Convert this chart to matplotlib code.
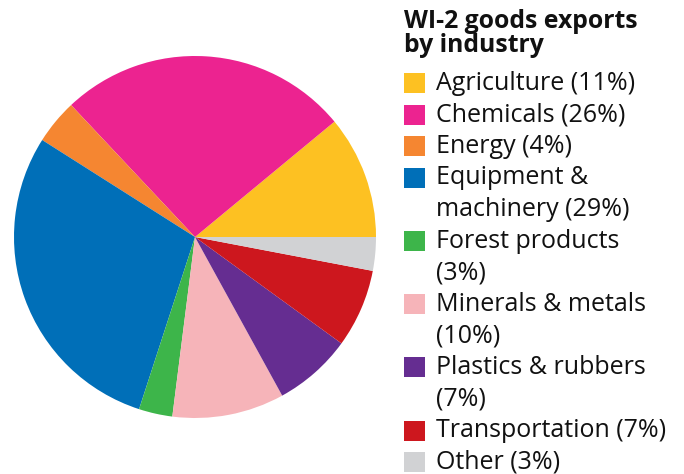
import matplotlib
matplotlib.use("Agg")
import matplotlib.pyplot as plt
from matplotlib.patches import Rectangle

# data
industries = ["Agriculture", "Chemicals", "Energy", "Equipment &\nmachinery",
              "Forest products", "Minerals & metals", "Plastics & rubbers",
              "Transportation", "Other"]
shares = [11, 26, 4, 29, 3, 10, 7, 7, 3]
legend_labels = ["Agriculture (11%)", "Chemicals (26%)", "Energy (4%)",
                 "Equipment &\nmachinery (29%)", "Forest products\n(3%)",
                 "Minerals & metals\n(10%)", "Plastics & rubbers\n(7%)",
                 "Transportation (7%)", "Other (3%)"]
colors = ["#FDC122", "#EC2390", "#F58631", "#006FB8", "#3DB54A",
          "#F6B4B9", "#652D91", "#CD171E", "#D1D2D4"]

W, H = 684, 474
fig = plt.figure(figsize=(W / 100, H / 100), dpi=100)

# pie
cx, cy, r = 195, 237, 181
ax = fig.add_axes([(cx - r) / W, (H - cy - r) / H, 2 * r / W, 2 * r / H])
ax.pie(shares, colors=colors, startangle=0, counterclock=True,
       wedgeprops=dict(linewidth=0))
ax.set_xlim(-1, 1)
ax.set_ylim(-1, 1)
ax.set_aspect("equal")
ax.axis("off")

# legend (drawn by hand so wrapped labels line up)
def fy(px):
    return 1 - px / H

fig.text(404 / W, fy(21), "WI-2 goods exports", fontsize=17.8,
         fontweight="bold", family="Open Sans", va="center", ha="left",
         color="#111111")
fig.text(404 / W, fy(46), "by industry", fontsize=17.8,
         fontweight="bold", family="Open Sans", va="center", ha="left",
         color="#111111")

row = 0
step = 31.6
for lab, col in zip(legend_labels, colors):
    y0 = 83 + step * row
    fig.patches.append(Rectangle((404 / W, fy(y0 + 10)), 21 / W, 20 / H,
                                 transform=fig.transFigure, facecolor=col,
                                 edgecolor="none"))
    for j, line in enumerate(lab.split("\n")):
        fig.text(436 / W, fy(y0 + step * j), line, fontsize=18,
                 family="Open Sans", va="center", ha="left", color="#111111")
    row += len(lab.split("\n"))

fig.savefig("out.png", dpi=100)
